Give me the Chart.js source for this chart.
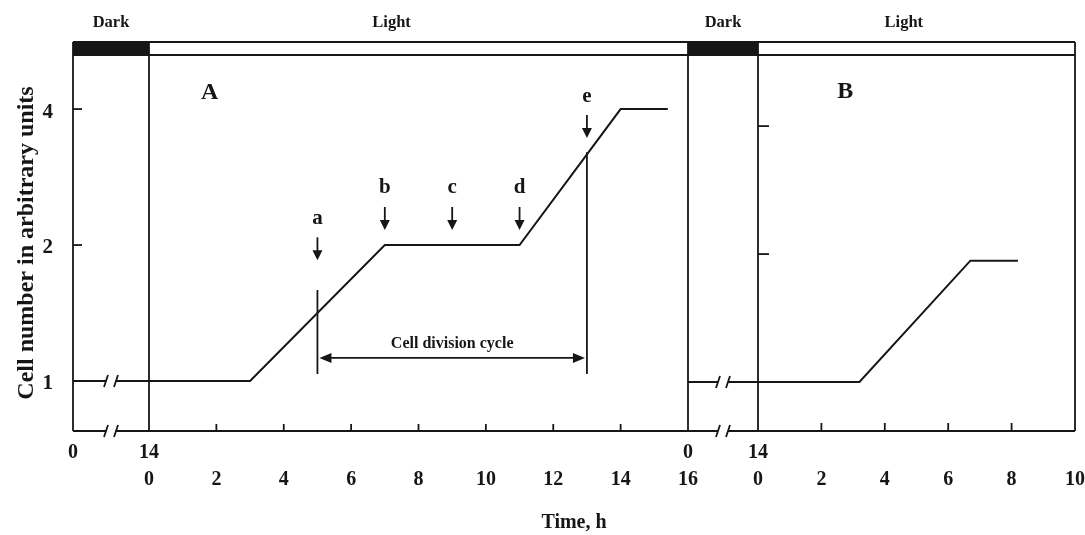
<!DOCTYPE html>
<html>
<head>
<meta charset="utf-8">
<script src="https://cdn.jsdelivr.net/npm/chart.js@4.4.1/dist/chart.umd.min.js"></script>
<style>
  html, body { margin: 0; padding: 0; background: #fff; }
  #wrap { width: 1085px; height: 535px; }
</style>
</head>
<body>
<div id="wrap"><canvas id="graph"></canvas></div>
<script>
// time axes (h): dark period is shown broken, light period in full
var darkTicks = [0, 14];
var lightTicksA = [0, 2, 4, 6, 8, 10, 12, 14, 16];
var lightTicksB = [0, 2, 4, 6, 8, 10];
var yTicks = [1, 2, 4];

// panel A: cell number during dark, then light
var darkA = [{ x: 0, y: 1 }, { x: 14, y: 1 }];
var lightA = [
  { x: 0, y: 1 }, { x: 3, y: 1 }, { x: 7, y: 2 },
  { x: 11, y: 2 }, { x: 14, y: 4 }, { x: 15.4, y: 4 }
];

// panel B
var darkB = [{ x: 0, y: 1 }, { x: 14, y: 1 }];
var lightB = [{ x: 0, y: 1 }, { x: 3.2, y: 1 }, { x: 6.7, y: 1.93 }, { x: 8.2, y: 1.93 }];

// sampling points a-e in panel A (time, arrow tip level)
var sampleNames = ["a", "b", "c", "d", "e"];
var sampleTimes = [5, 7, 9, 11, 13];
var sampleLevels = [1.85, 2.16, 2.16, 2.16, 3.45];

var cycleStart = 5;
var cycleEnd = 13;

var FONT = '"Liberation Serif", "DejaVu Serif", serif';
var INK = "#161616";

Chart.defaults.font.family = FONT;
Chart.defaults.color = INK;

function line(ctx, ax, ay, bx, by) {
  ctx.beginPath();
  ctx.moveTo(ax, ay);
  ctx.lineTo(bx, by);
  ctx.stroke();
}

function tri(ctx, p) {
  ctx.beginPath();
  ctx.moveTo(p[0], p[1]);
  ctx.lineTo(p[2], p[3]);
  ctx.lineTo(p[4], p[5]);
  ctx.closePath();
  ctx.fill();
}

function breakMark(ctx, x, y) {
  ctx.fillStyle = "#fff";
  ctx.fillRect(x - 5, y - 3, 10, 6);
  ctx.fillStyle = INK;
  line(ctx, x - 7, y + 6, x - 3, y - 6);
  line(ctx, x + 3, y + 6, x + 7, y - 6);
}

function text(ctx, str, x, y, size) {
  ctx.font = "bold " + size + "px " + FONT;
  ctx.textAlign = "center";
  ctx.textBaseline = "middle";
  ctx.fillText(str, x, y);
}

var figure = {
  id: "figure",
  afterDatasetsDraw: function (chart) {
    var ctx = chart.ctx;
    var area = chart.chartArea;
    var s = chart.scales;
    var x0 = s.xDarkA.getPixelForValue(darkTicks[0]);
    var x1 = s.xDarkA.getPixelForValue(darkTicks[1]);
    var x2 = s.xLightA.getPixelForValue(lightTicksA[lightTicksA.length - 1]);
    var x3 = s.xDarkB.getPixelForValue(darkTicks[1]);
    var x4 = s.xLightB.getPixelForValue(lightTicksB[lightTicksB.length - 1]);
    var top = area.top - 13;
    var bottom = area.bottom;

    ctx.save();
    ctx.strokeStyle = INK;
    ctx.fillStyle = INK;
    ctx.lineWidth = 1.8;

    // dark / light bar and frame
    ctx.fillRect(x0, top, x1 - x0, area.top - top);
    ctx.fillRect(x2, top, x3 - x2, area.top - top);
    line(ctx, x0, top, x4, top);
    line(ctx, x0, area.top, x4, area.top);
    [x0, x1, x2, x3, x4].forEach(function (x) { line(ctx, x, top, x, bottom); });
    line(ctx, x0, bottom, x4, bottom);

    text(ctx, "Dark", (x0 + x1) / 2, top - 19, 16.5);
    text(ctx, "Light", s.xLightA.getPixelForValue(7.2), top - 19, 16.5);
    text(ctx, "Dark", (x2 + x3) / 2, top - 19, 16.5);
    text(ctx, "Light", s.xLightB.getPixelForValue(4.6), top - 19, 16.5);

    // inward tick marks
    lightTicksA.slice(1, -1).forEach(function (v) {
      var px = s.xLightA.getPixelForValue(v);
      line(ctx, px, bottom, px, bottom - 7);
    });
    lightTicksB.slice(1, -1).forEach(function (v) {
      var px = s.xLightB.getPixelForValue(v);
      line(ctx, px, bottom, px, bottom - 8);
    });
    yTicks.forEach(function (v) {
      line(ctx, x0, s.y.getPixelForValue(v), x0 + 9, s.y.getPixelForValue(v));
      line(ctx, x3, s.yB.getPixelForValue(v), x3 + 11, s.yB.getPixelForValue(v));
    });

    // axis breaks
    breakMark(ctx, s.xDarkA.getPixelForValue(7), bottom);
    breakMark(ctx, s.xDarkA.getPixelForValue(7), s.y.getPixelForValue(1));
    breakMark(ctx, s.xDarkB.getPixelForValue(7), bottom);
    breakMark(ctx, s.xDarkB.getPixelForValue(7), s.yB.getPixelForValue(1));

    // panel letters
    text(ctx, "A", s.xLightA.getPixelForValue(1.8), area.top + 38, 24);
    text(ctx, "B", s.xLightB.getPixelForValue(2.75), area.top + 37, 24);

    // sampling arrows a-e
    sampleTimes.forEach(function (t, i) {
      var px = s.xLightA.getPixelForValue(t);
      var tip = s.y.getPixelForValue(sampleLevels[i]);
      line(ctx, px, tip - 23, px, tip - 8);
      tri(ctx, [px - 5, tip - 10, px + 5, tip - 10, px, tip]);
      text(ctx, sampleNames[i], px, tip - 42, 21);
    });

    // cell division cycle
    var ca = s.xLightA.getPixelForValue(cycleStart);
    var ce = s.xLightA.getPixelForValue(cycleEnd);
    var yl = s.y.getPixelForValue(1.036);
    line(ctx, ca, yl, ca, s.y.getPixelForValue(1.59));
    line(ctx, ce, yl, ce, s.y.getPixelForValue(3.21));
    var ya = s.y.getPixelForValue(1.125);
    line(ctx, ca + 8, ya, ce - 8, ya);
    tri(ctx, [ca + 2, ya, ca + 14, ya - 5, ca + 14, ya + 5]);
    tri(ctx, [ce - 2, ya, ce - 14, ya - 5, ce - 14, ya + 5]);
    text(ctx, "Cell division cycle", (ca + ce) / 2, ya - 14, 16);

    ctx.restore();
  }
};

function fixHeight(scale) {
  scale.height = 68;
  scale.paddingLeft = 0;
  scale.paddingRight = 0;
}

function xAxis(weight, max, ticks, pad) {
  return {
    type: "linear",
    position: "bottom",
    stack: "time",
    stackWeight: weight,
    min: 0,
    max: max,
    grid: { display: false },
    border: { display: false },
    afterBuildTicks: function (scale) {
      scale.ticks = ticks.map(function (v) { return { value: v }; });
    },
    afterFit: fixHeight,
    ticks: {
      autoSkip: false,
      maxRotation: 0,
      padding: pad,
      color: INK,
      font: { size: 20, weight: "bold" }
    }
  };
}

var lineStyle = {
  borderColor: INK,
  borderWidth: 2,
  pointRadius: 0,
  fill: false,
  tension: 0
};

var chart = new Chart(document.getElementById("graph").getContext("2d"), {
  type: "line",
  data: {
    datasets: [
      Object.assign({ data: darkA, xAxisID: "xDarkA", yAxisID: "y" }, lineStyle),
      Object.assign({ data: lightA, xAxisID: "xLightA", yAxisID: "y" }, lineStyle),
      Object.assign({ data: darkB, xAxisID: "xDarkB", yAxisID: "yB" }, lineStyle),
      Object.assign({ data: lightB, xAxisID: "xLightB", yAxisID: "yB" }, lineStyle)
    ]
  },
  options: {
    responsive: true,
    maintainAspectRatio: false,
    animation: false,
    layout: { padding: { top: 55, right: 10, left: 0, bottom: 0 } },
    scales: {
      xDarkA: xAxis(76, 14, darkTicks, 2),
      xLightA: xAxis(539, 16, lightTicksA, 29),
      xDarkB: xAxis(70, 14, darkTicks, 2),
      xLightB: xAxis(317, 10, lightTicksB, 29),
      y: {
        type: "logarithmic",
        position: "left",
        min: 0.775,
        max: 5.27,
        grid: { display: false },
        border: { display: false },
        afterBuildTicks: function (scale) {
          scale.ticks = yTicks.map(function (v) { return { value: v }; });
        },
        afterFit: function (scale) { scale.width = 73; },
        ticks: {
          padding: 12,
          labelOffset: 3,
          color: INK,
          font: { size: 21, weight: "bold" },
          callback: function (v) { return String(v); }
        },
        title: {
          display: true,
          text: "Cell number in arbitrary units",
          color: INK,
          font: { size: 24, weight: "bold" },
          padding: { top: 12, bottom: 0 }
        }
      },
      yB: {
        type: "logarithmic",
        position: "right",
        display: false,
        min: 0.767,
        max: 5.88
      }
    },
    plugins: {
      legend: { display: false },
      tooltip: { enabled: false },
      title: {
        display: true,
        position: "bottom",
        fullSize: false,
        text: "Time, h",
        color: INK,
        font: { size: 20, weight: "bold" },
        padding: { top: 12, bottom: 0 }
      }
    }
  },
  plugins: [figure]
});
</script>
</body>
</html>
